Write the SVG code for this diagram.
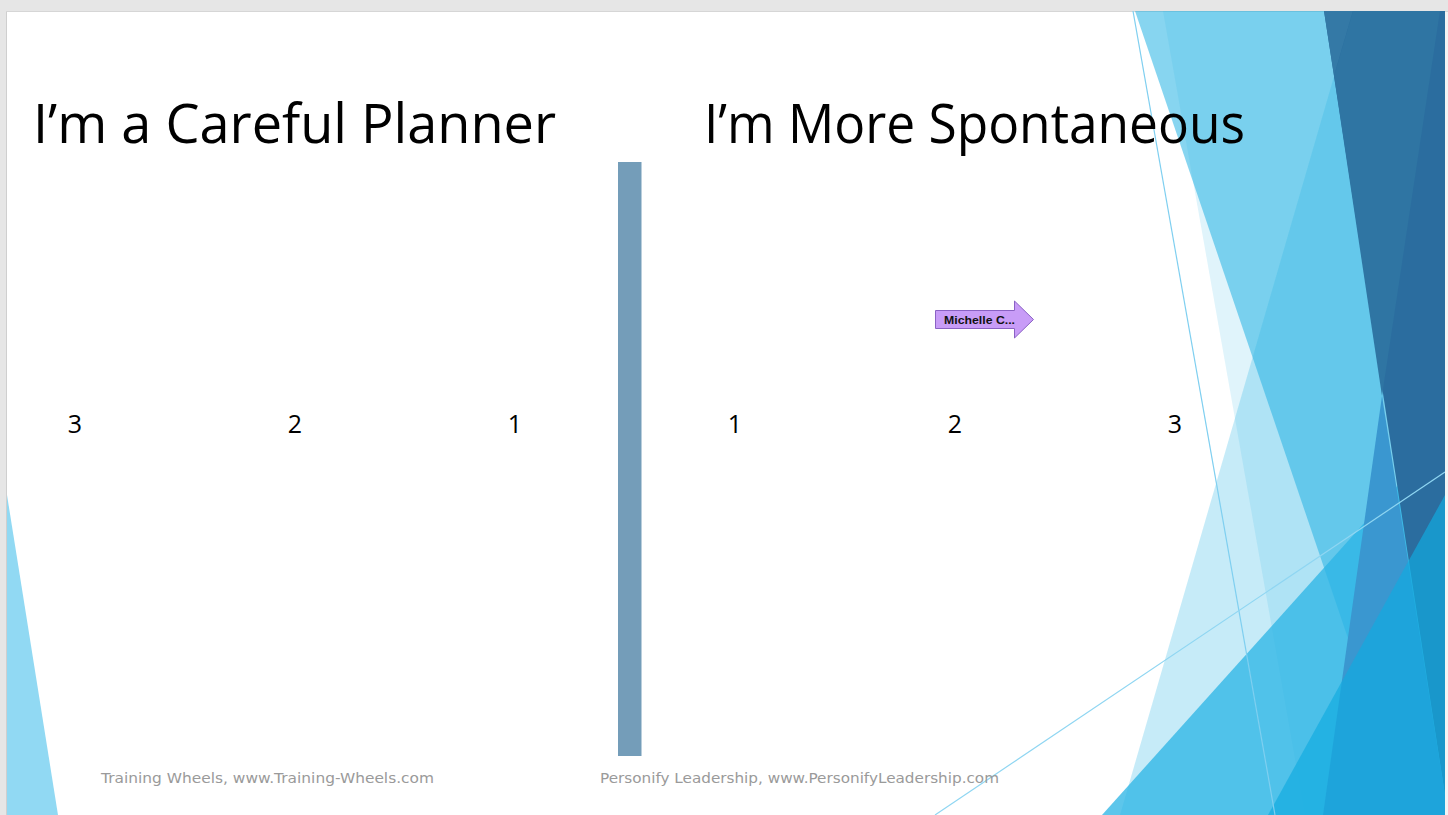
<svg xmlns="http://www.w3.org/2000/svg" width="1448" height="815" viewBox="0 0 1448 815">
  <defs>
    <style>
      .title { font-family: "Open Sans", "Liberation Sans", sans-serif; font-size: 55px; fill: #000000; }
      .num { font-family: "Open Sans", "Liberation Sans", sans-serif; font-size: 25px; fill: #000000; text-anchor: middle; }
      .foot { font-family: "DejaVu Sans", "Liberation Sans", sans-serif; font-size: 14px; fill: #9a9a9a; }
      .k { fill: #2cb5e5; }
      .thin { stroke-width: 1.2; fill: none; }
    </style>
    <clipPath id="slideClip">
      <rect x="7" y="11" width="1438" height="804"/>
    </clipPath>
  </defs>

  <g id="background">
    <rect x="0" y="0" width="1448" height="815" fill="#e6e6e6"/>
    <rect x="7" y="11" width="1441" height="804" fill="#f4f4f4"/>
    <rect x="7" y="11" width="1438" height="804" fill="#ffffff"/>
    <line x1="6.5" y1="11" x2="6.5" y2="815" stroke="#cfcfcf" stroke-width="1"/>
    <line x1="6" y1="11.5" x2="1448" y2="11.5" stroke="#d6d6d6" stroke-width="1"/>
  </g>

  <g id="decor" clip-path="url(#slideClip)">
    <polygon points="7,495 7,815 58,815" fill="#91d9f3"/>
    <polygon class="k" fill-opacity="0.57" points="1135,11 1445,11 1445,815 1408,815"/>
    <polygon class="k" fill-opacity="0.15" points="1163,11 1445,11 1445,815 1305,815"/>
    <polygon class="k" fill-opacity="0.27" points="1353,11 1440,11 1323,815 1120,815"/>
    <polygon class="k" fill-opacity="0.77" points="1102,815 1445,433 1445,815"/>
    <polygon fill="#2b6d9f" points="1324,11 1445,11 1445,795"/>
    <polygon fill="#3479a6" points="1324,11 1353,11 1334,76"/>
    <polygon fill="#2f75a3" points="1353,11 1440,11 1382,396 1334,76"/>
    <polygon fill="#3a97d0" points="1382,396 1445,795 1445,815 1323,815"/>
    <polygon fill="#12abe0" fill-opacity="0.68" points="1268,815 1445,495 1445,815"/>
    <line class="thin" x1="1133" y1="11" x2="1275" y2="815" stroke="#7fcff0"/>
    <line class="thin" x1="935" y1="815" x2="1445" y2="472" stroke="#8fd6f2"/>
  </g>

  <g id="title-left">
    <text class="title" x="33" y="143" textLength="523" lengthAdjust="spacingAndGlyphs">I’m a Careful Planner</text>
  </g>
  <g id="title-right">
    <text class="title" x="704" y="143" textLength="541" lengthAdjust="spacingAndGlyphs">I’m More Spontaneous</text>
  </g>

  <g id="divider">
    <rect x="618" y="162" width="23.5" height="594" fill="#749db9"/>
  </g>

  <g id="scale-left">
    <text class="num" x="75" y="433">3</text>
    <text class="num" x="295" y="433">2</text>
    <text class="num" x="515" y="433">1</text>
  </g>
  <g id="scale-right">
    <text class="num" x="735" y="433">1</text>
    <text class="num" x="955" y="433">2</text>
    <text class="num" x="1175" y="433">3</text>
  </g>

  <g id="marker-michelle">
    <polygon points="935.5,310.5 1014.5,310.5 1014.5,301 1033.5,319.5 1014.5,338 1014.5,328.5 935.5,328.5" fill="#c89cf7" stroke="#8a62c4" stroke-width="1"/>
    <text x="944" y="324" font-family="'Liberation Sans', Arial, sans-serif" font-size="10" font-weight="bold" fill="#111111" textLength="71" lengthAdjust="spacingAndGlyphs">Michelle C...</text>
  </g>

  <g id="footer">
    <text class="foot" x="101" y="783" textLength="333" lengthAdjust="spacingAndGlyphs">Training Wheels, www.Training-Wheels.com</text>
    <text class="foot" x="600" y="783" textLength="399" lengthAdjust="spacingAndGlyphs">Personify Leadership, www.PersonifyLeadership.com</text>
  </g>
</svg>
